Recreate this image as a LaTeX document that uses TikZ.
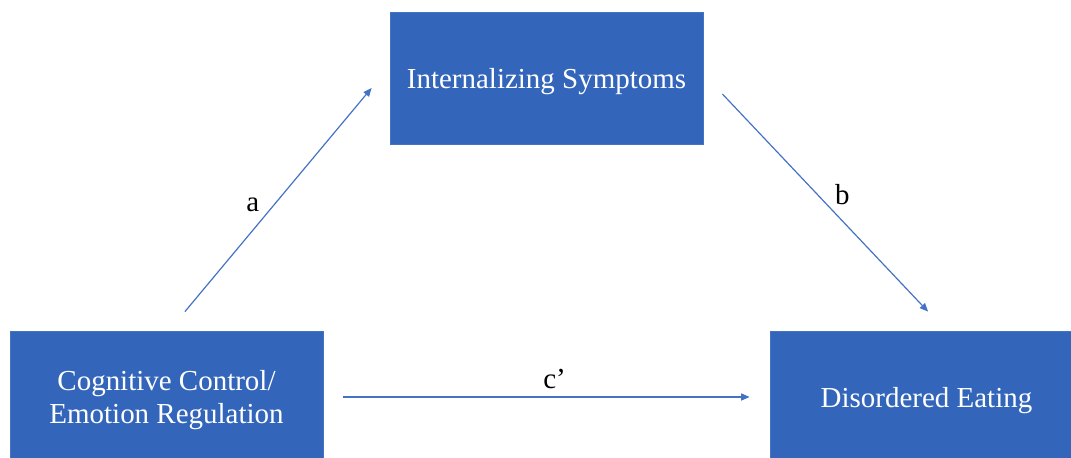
\documentclass[tikz,border=0pt]{standalone}
\usepackage{fontspec}
\setmainfont{Liberation Serif}
\usetikzlibrary{positioning}
\usetikzlibrary{arrows.meta}
\definecolor{boxblue}{RGB}{51,102,187}
\definecolor{lineblue}{RGB}{68,114,196}

\begin{document}
\begin{tikzpicture}[x=0.025cm,y=-0.025cm,
    varbox/.style={draw=lineblue, line width=0.5pt, fill=boxblue, text=white,
      minimum width=7.825cm, minimum height=3.3cm, align=center, text depth=0pt,
      font=\fontsize{20.6}{23.4}\selectfont},
    pathline/.style={draw=lineblue, line width=0.85pt,
      -{Triangle[length=6pt,width=5pt]}},
    pathlabel/.style={text=black, font=\fontsize{20.6}{23.4}\selectfont}]
      \useasboundingbox (0,0) rectangle (1071,458);
      \clip (0,0) rectangle (1071,458);
      \node[varbox] (intern) at (546.5,78) {Internalizing Symptoms};% Mediator
      \node[varbox] (cog) at (166.5,397) {Cognitive Control/\\Emotion Regulation};% Predictor
      \node[varbox] (eat) at (926.5,397) {Disordered Eating};% Outcome
      \draw[pathline] ([xshift=0.46cm,yshift=0.475cm]cog.north)
        -- ([xshift=-0.45cm,yshift=-0.25cm]intern.west)
        node[pathlabel, pos=0.45, xshift=-0.4cm, yshift=0.15cm] {a};
      \draw[pathline] ([xshift=0.475cm,yshift=-0.4cm]intern.east)
        -- ([xshift=0.04cm,yshift=0.475cm]eat.north)
        node[pathlabel, pos=0.5, xshift=0.425cm, yshift=0.2cm] {b};
      \draw[pathline] ([xshift=0.5cm]cog.east)
        -- ([xshift=-0.5cm]eat.west)
        node[pathlabel, pos=0.52, yshift=0.45cm] {c’};
    \end{tikzpicture}
\end{document}
